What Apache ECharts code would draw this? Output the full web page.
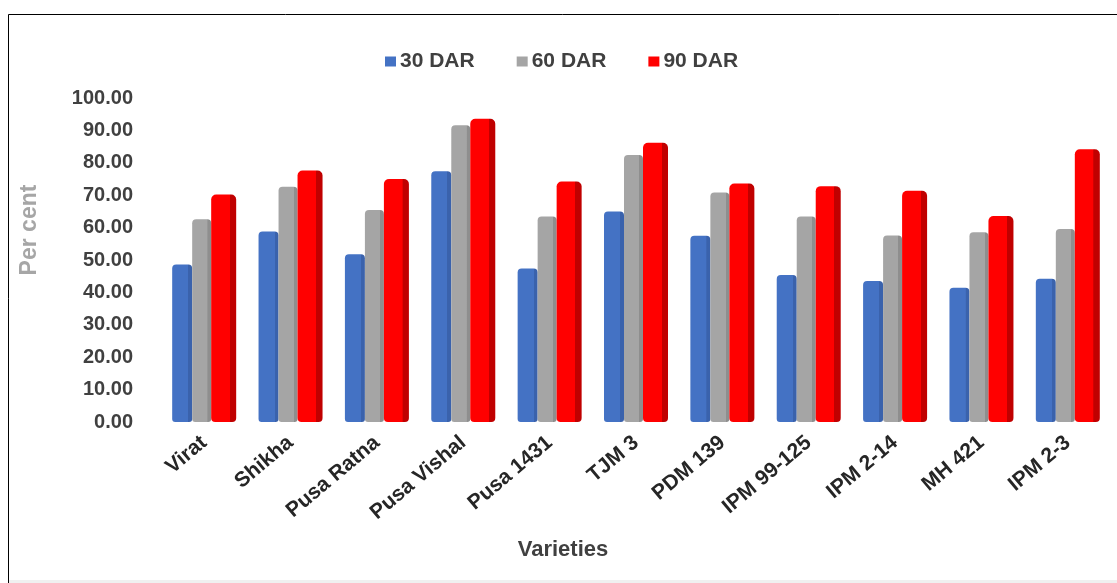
<!DOCTYPE html>
<html>
<head>
<meta charset="utf-8">
<script src="https://cdn.jsdelivr.net/npm/echarts@6/dist/echarts.min.js"></script>
<style>html,body{margin:0;padding:0;background:#fff;}#c{width:1117px;height:583px;}</style>
</head>
<body>
<div id="c"></div>
<script>
const categories = ['Virat','Shikha','Pusa Ratna','Pusa Vishal','Pusa 1431','TJM 3','PDM 139','IPM 99-125','IPM 2-14','MH 421','IPM 2-3'];
const dar30 = [48.6, 58.8, 51.8, 77.4, 47.4, 65.0, 57.5, 45.4, 43.5, 41.4, 44.2];
const dar60 = [62.6, 72.6, 65.4, 91.6, 63.4, 82.4, 70.8, 63.4, 57.6, 58.6, 59.6];
const dar90 = [70.2, 77.6, 75.0, 93.6, 74.2, 86.2, 73.6, 72.8, 71.4, 63.6, 84.2];
const yTicks = [0,10,20,30,40,50,60,70,80,90,100];

function grad(c1, c2, stop) {
  return {type:'linear', x:0, y:0, x2:1, y2:0, colorStops:[
    {offset:0, color:c1},{offset:stop, color:c1},{offset:stop+0.01, color:c2},{offset:1, color:c2}]};
}
const font = '"Liberation Sans", Arial, sans-serif';
const chart = echarts.init(document.getElementById('c'));
chart.setOption({
  animation:false,
  backgroundColor:'#fff',
  textStyle:{fontFamily:font},
  legend:{
    top:46, left:380, itemWidth:11, itemHeight:10, itemGap:42, icon:'rect',
    textStyle:{fontSize:21, fontWeight:'bold', color:'#404040', fontFamily:font, padding:[0,0,0,-1]},
    data:[{name:'30 DAR', itemStyle:{color:'#4472C4'}},{name:'60 DAR', itemStyle:{color:'#A5A5A5'}},{name:'90 DAR', itemStyle:{color:'#FF0000'}}]
  },
  grid:{left:161, right:6, top:98, bottom:161},
  xAxis:{
    type:'category', data:categories,
    axisLine:{show:false}, axisTick:{show:false},
    axisLabel:{rotate:40, margin:18, interval:0, fontSize:21, fontWeight:'bold', color:'#262626', fontFamily:font}
  },
  yAxis:{
    type:'value', min:yTicks[0], max:yTicks[yTicks.length-1], interval:10,
    splitLine:{show:false}, axisLine:{show:false}, axisTick:{show:false},
    axisLabel:{margin:28, fontSize:20, fontWeight:'bold', color:'#404040', fontFamily:font,
      formatter:function(v){return v.toFixed(2);}}
  },
  series:[
    {name:'30 DAR', type:'bar', data:dar30, barWidth:20, barGap:'0%', barCategoryGap:'25%',
      itemStyle:{color:grad('#4472C4','#3A62AC',0.8), borderRadius:[4,4,3,3]}},
    {name:'60 DAR', type:'bar', data:dar60, barWidth:19, barGap:'0%',
      itemStyle:{color:grad('#A5A5A5','#8E8E8E',0.8), borderRadius:[4,4,3,3]}},
    {name:'90 DAR', type:'bar', data:dar90, barWidth:25, barGap:'0%',
      itemStyle:{color:grad('#FF0000','#C00000',0.74), borderRadius:[5,5,4,4]}}
  ],
  graphic:[
    {type:'line', shape:{x1:8.5, y1:14.5, x2:1117, y2:14.5}, style:{stroke:'#000', lineWidth:1}},
    {type:'line', shape:{x1:8.5, y1:14.5, x2:8.5, y2:583}, style:{stroke:'#000', lineWidth:1}},
    {type:'rect', shape:{x:9, y:580, width:1108, height:3}, style:{fill:'#f0f0f0'}},
    {type:'text', x:30, y:230, rotation:Math.PI/2, style:{text:'Per cent', fontSize:23, fontWeight:'bold', fill:'#A6A6A6', fontFamily:font, align:'center', verticalAlign:'middle'}},
    {type:'text', x:563, y:550, style:{text:'Varieties', fontSize:22, fontWeight:'bold', fill:'#404040', fontFamily:font, align:'center', verticalAlign:'middle'}}
  ]
});
</script>
</body>
</html>
